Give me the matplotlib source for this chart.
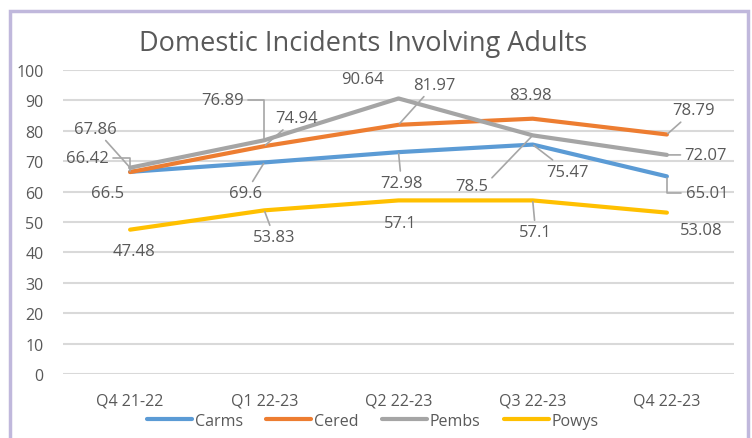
import matplotlib
matplotlib.use("Agg")
import matplotlib.pyplot as plt
from matplotlib.patches import Rectangle

plt.rcParams['font.family'] = ['Open Sans', 'DejaVu Sans']

# Data
quarters = ['Q4 21-22', 'Q1 22-23', 'Q2 22-23', 'Q3 22-23', 'Q4 22-23']
carms = [66.5, 69.6, 72.98, 75.47, 65.01]
cered = [66.42, 74.94, 81.97, 83.98, 78.79]
pembs = [67.86, 76.89, 90.64, 78.5, 72.07]
powys = [47.48, 53.83, 57.1, 57.1, 53.08]

series = [
    ('Carms', carms, '#5B9BD5'),
    ('Cered', cered, '#ED7D31'),
    ('Pembs', pembs, '#A5A5A5'),
    ('Powys', powys, '#FFC000'),
]

# label offsets in pixels (dx, dy) and leader type: None, 'line', 'angle', 'arc'
label_pos = {
    'Carms': [(-23, -21, None), (-19, -31, 'line'), (3, -31, 'line'),
              (35, -27, 'line'), (40, -17, 'angle')],
    'Cered': [(-43, 14, 'angle'), (32, 28, 'line'), (36, 40, 'line'),
              (-2, 24, None), (27, 24, 'line')],
    'Pembs': [(-35, 39, 'line'), (-42, 40, 'angle'), (-36, 19, None),
              (-61, -51, 'arc'), (39, 0, 'line')],
    'Powys': [(4, -21, None), (10, -27, 'line'), (2, -23, None),
              (3, -32, 'line'), (34, -17, None)],
}

text_col = '#595959'
lead_col = '#A6A6A6'

fig = plt.figure(figsize=(7.52, 4.39), dpi=100)
ax = fig.add_axes([63 / 752, 1 - 375 / 439, (734 - 63) / 752, (375 - 71) / 439])

x = list(range(len(quarters)))
for name, vals, col in series:
    ax.plot(x, vals, color=col, lw=3, label=name, solid_capstyle='round', zorder=3)

for name, vals, col in series:
    for i, v in enumerate(vals):
        dx, dy, lead = label_pos[name][i]
        props = None
        if lead == 'line':
            props = dict(arrowstyle='-', color=lead_col, lw=1.2, shrinkA=1, shrinkB=1)
        elif lead == 'angle':
            props = dict(arrowstyle='-', color=lead_col, lw=1.2, shrinkA=1, shrinkB=1,
                         connectionstyle='angle,angleA=0,angleB=90,rad=0')
        elif lead == 'arc':
            props = dict(arrowstyle='-', color=lead_col, lw=1.2, shrinkA=1, shrinkB=1,
                         connectionstyle='arc,angleA=0,angleB=0,armA=12,armB=0,rad=0')
        ax.annotate(f'{v:g}', (i, v), xytext=(dx, dy), textcoords='offset pixels',
                    ha='center', va='center', fontsize=12, color=text_col,
                    arrowprops=props, zorder=4)

ax.set_xlim(-0.5, 4.5)
ax.set_ylim(0, 100)
ax.set_yticks(range(0, 101, 10))
ax.set_xticks(x)
ax.set_xticklabels(quarters)
ax.grid(axis='y', color='#D9D9D9', lw=1.5)
ax.set_axisbelow(True)
for s in ax.spines.values():
    s.set_visible(False)
ax.tick_params(length=0, labelsize=11.5, colors=text_col)
ax.tick_params(axis='x', pad=13)
ax.tick_params(axis='y', pad=14)

fig.text(363 / 752, 1 - 44 / 439, 'Domestic Incidents Involving Adults',
         ha='center', va='center', fontsize=19.5, color=text_col)

fig.legend(loc='center', bbox_to_anchor=(373 / 752, 1 - 422 / 439), ncol=4,
           frameon=False, fontsize=11.5, handlelength=2.8, handletextpad=0.2,
           columnspacing=1.45, labelcolor=text_col)

# outer chart border
fig.patches.append(Rectangle((10 / 752, -0.05), (748 - 10) / 752, 1.05 - 12 / 439,
                             transform=fig.transFigure, fill=False,
                             edgecolor='#C0B8DC', lw=2.5))

fig.savefig('out.png', dpi=100)
